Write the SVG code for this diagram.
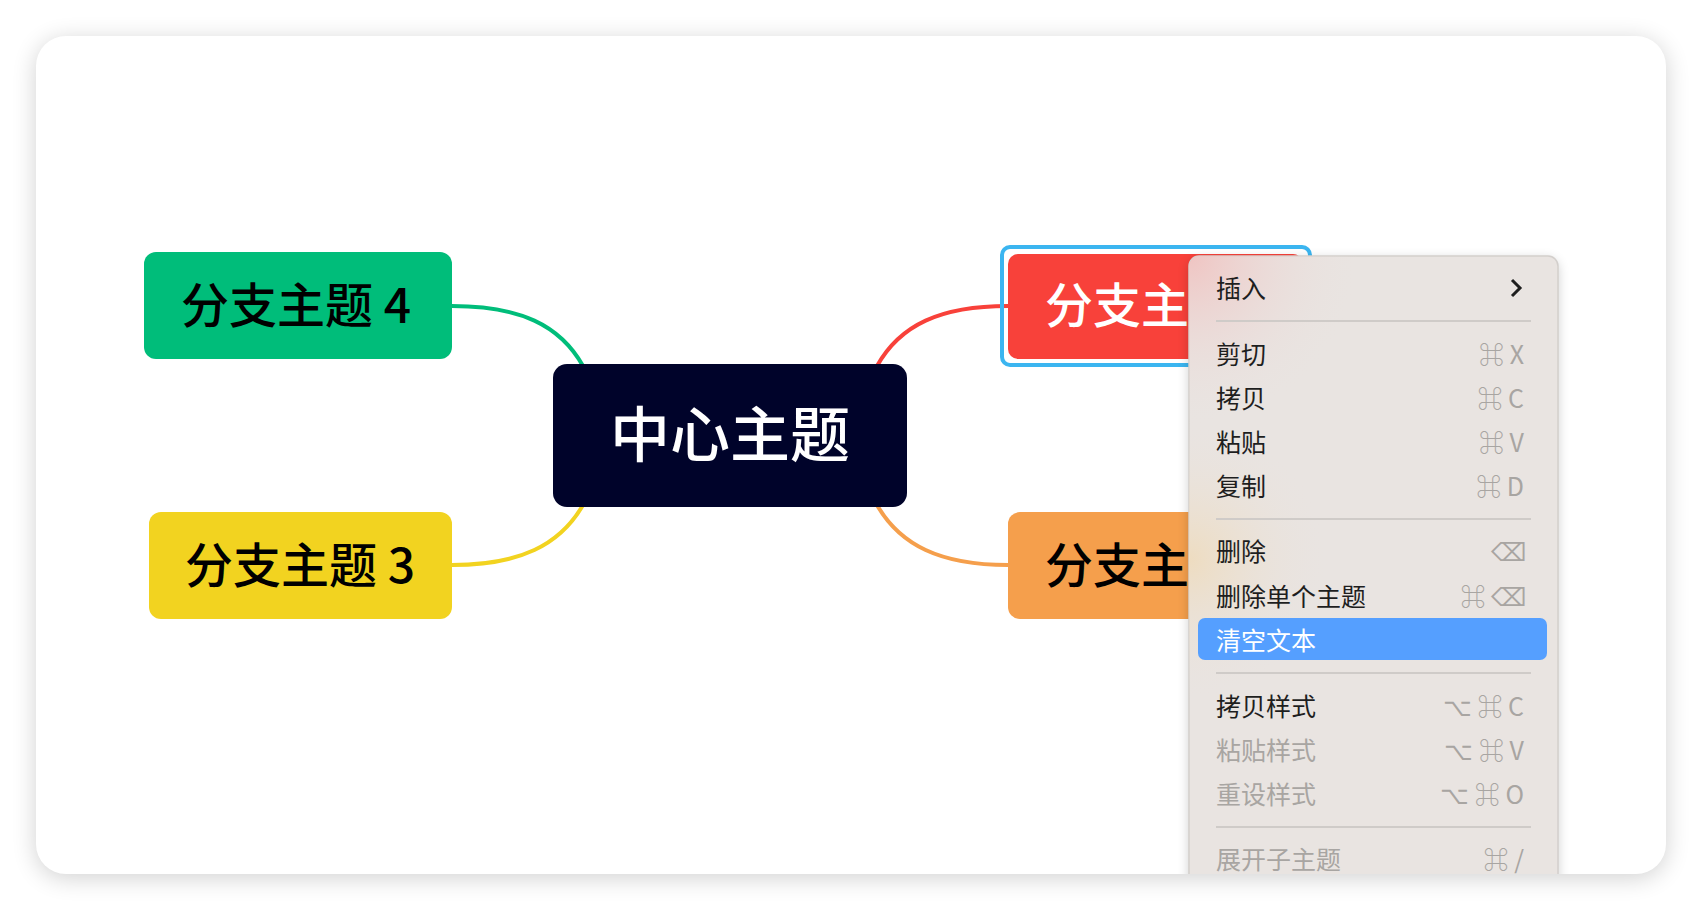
<svg xmlns="http://www.w3.org/2000/svg" width="1702" height="910" viewBox="0 0 1702 910">
<defs>
<filter id="sh" x="-10%" y="-10%" width="120%" height="120%"><feGaussianBlur stdDeviation="12"/></filter>
<filter id="msh" x="-20%" y="-20%" width="140%" height="140%"><feGaussianBlur stdDeviation="6"/></filter>
<radialGradient id="pink" cx="1189" cy="256" r="170" gradientUnits="userSpaceOnUse"><stop offset="0" stop-color="#F0C4C2"/><stop offset="1" stop-color="#E9E4E1" stop-opacity="0"/></radialGradient>
<radialGradient id="org" cx="1189" cy="560" r="140" gradientUnits="userSpaceOnUse"><stop offset="0" stop-color="#EEDCC0"/><stop offset="1" stop-color="#E9E4E1" stop-opacity="0"/></radialGradient>
<clipPath id="card"><rect x="36" y="36" width="1630" height="838" rx="30"/></clipPath>
<clipPath id="left"><rect x="0" y="0" width="1189" height="910"/></clipPath>
<style>
.b{font-family:"Noto Sans CJK SC","Noto Sans",sans-serif;font-size:48px;font-weight:500}
.m{font-family:"Noto Sans CJK SC","Noto Sans",sans-serif;font-size:25px;fill:#1E1E1E}
.k{font-family:"Noto Sans CJK SC","Noto Sans",sans-serif;font-size:25px;fill:#A8A5A2;text-anchor:end}
.sep{stroke:#CFCBC8;stroke-width:2}
.c{fill:none;stroke-width:4}
</style>
</defs>
<rect width="1702" height="910" fill="#FFFFFF"/>
<rect x="36" y="40" width="1630" height="838" rx="30" fill="#000" opacity="0.18" filter="url(#sh)"/>
<rect x="36" y="36" width="1630" height="838" rx="30" fill="#FFFFFF"/>
<g clip-path="url(#card)">
<g id="connectors">
<path class="c" stroke="#00BD7A" d="M452,306 C520,306 560,325 583,366"/>
<path class="c" stroke="#F2D320" d="M452,565 C520,565 560,545 583,505"/>
<path class="c" stroke="#F8413A" d="M1008,306 C940,306 900,325 877,366"/>
<path class="c" stroke="#F59F4C" d="M1008,565 C940,565 900,545 877,505"/>
</g>
<g id="n4"><rect x="144" y="252" width="308" height="107" rx="12" fill="#00BD7A"/><text class="b" x="181" y="323" fill="#000">分支主题 4</text></g>
<g id="n3"><rect x="149" y="512" width="303" height="107" rx="12" fill="#F2D320"/><text class="b" x="185" y="583" fill="#000">分支主题 3</text></g>
<g id="center"><rect x="553" y="364" width="354" height="143" rx="14" fill="#00032A"/><text x="730" y="457" text-anchor="middle" font-family="Noto Sans CJK SC,sans-serif" font-size="60" font-weight="500" fill="#FFF">中心主题</text></g>
<g id="n1"><rect x="1002" y="247" width="308" height="118" rx="8" fill="none" stroke="#3BB5F0" stroke-width="4"/><rect x="1008" y="254" width="295" height="105" rx="10" fill="#F8413A"/><text class="b" x="1045" y="323" fill="#FFF" clip-path="url(#left)">分支主</text></g>
<g id="n2"><rect x="1008" y="512" width="295" height="107" rx="12" fill="#F59F4C"/><text class="b" x="1045" y="583" fill="#000" clip-path="url(#left)">分支主</text></g>
<g id="menu">
<rect x="1189" y="259" width="369" height="660" rx="10" fill="#000" opacity="0.2" filter="url(#msh)"/>
<rect x="1189" y="256" width="369" height="660" rx="10" fill="#E9E4E1" stroke="#D3CFCC" stroke-width="1.5"/>
<rect x="1189" y="256" width="369" height="660" rx="10" fill="url(#pink)"/>
<rect x="1189" y="400" width="369" height="300" fill="url(#org)"/>
<text class="m" x="1216" y="298">插入</text>
<path d="M1512,280 L1520,288 L1512,296" fill="none" stroke="#1E1E1E" stroke-width="3"/>
<line class="sep" x1="1216" y1="321" x2="1531" y2="321"/>
<text class="m" x="1216" y="364">剪切</text><text class="k" x="1524" y="364">⌘ X</text>
<text class="m" x="1216" y="408">拷贝</text><text class="k" x="1524" y="408">⌘ C</text>
<text class="m" x="1216" y="452">粘贴</text><text class="k" x="1524" y="452">⌘ V</text>
<text class="m" x="1216" y="496">复制</text><text class="k" x="1524" y="496">⌘ D</text>
<line class="sep" x1="1216" y1="519" x2="1531" y2="519"/>
<text class="m" x="1216" y="561">删除</text><text class="k" x="1526" y="561">⌫</text>
<text class="m" x="1216" y="606">删除单个主题</text><text class="k" x="1526" y="606">⌘ ⌫</text>
<rect x="1198" y="618" width="349" height="42" rx="7" fill="#559FFF"/>
<text class="m" x="1216" y="650" style="fill:#FFF">清空文本</text>
<line class="sep" x1="1216" y1="673" x2="1531" y2="673"/>
<text class="m" x="1216" y="716">拷贝样式</text><text class="k" x="1524" y="716">⌥ ⌘ C</text>
<text class="m" x="1216" y="760" style="fill:#A8A5A2">粘贴样式</text><text class="k" x="1524" y="760">⌥ ⌘ V</text>
<text class="m" x="1216" y="804" style="fill:#A8A5A2">重设样式</text><text class="k" x="1524" y="804">⌥ ⌘ O</text>
<line class="sep" x1="1216" y1="827" x2="1531" y2="827"/>
<text class="m" x="1216" y="869" style="fill:#A8A5A2">展开子主题</text><text class="k" x="1524" y="869">⌘ /</text>
</g>
</g>
</svg>
